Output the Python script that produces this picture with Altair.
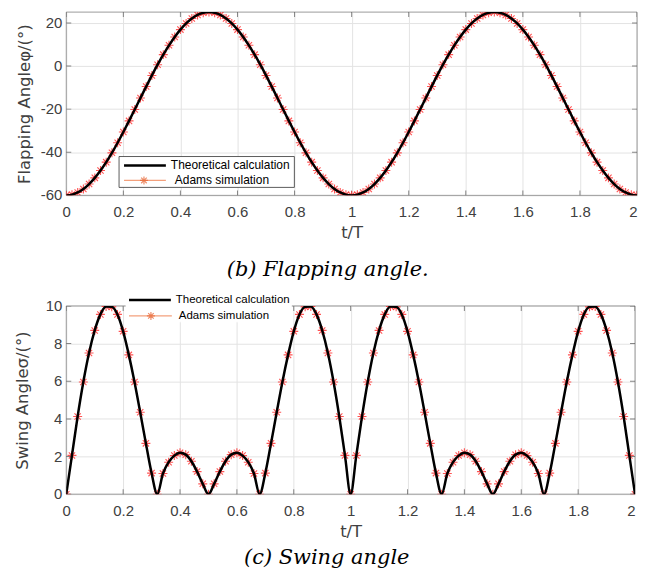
import altair as alt
import pandas as pd

# sample positions (t/T) of the simulation points
t_values = [round(0.02 * i, 2) for i in range(101)]

# flapping angle (deg)
flapping = [
    -60.0, -59.66, -58.66, -57.02, -54.74, -51.88, -48.48, -44.59, -40.27, -35.60,
    -30.63, -25.46, -20.17, -14.83, -9.54, -4.37, 0.60, 5.27, 9.59, 13.48,
    16.88, 19.74, 22.02, 23.66, 24.66, 25.00, 24.66, 23.66, 22.02, 19.74,
    16.88, 13.48, 9.59, 5.27, 0.60, -4.37, -9.54, -14.83, -20.17, -25.46,
    -30.63, -35.60, -40.27, -44.59, -48.48, -51.88, -54.74, -57.02, -58.66, -59.66,
    -60.0,
    -59.66, -58.66, -57.02, -54.74, -51.88, -48.48, -44.59, -40.27, -35.60,
    -30.63, -25.46, -20.17, -14.83, -9.54, -4.37, 0.60, 5.27, 9.59, 13.48,
    16.88, 19.74, 22.02, 23.66, 24.66, 25.00, 24.66, 23.66, 22.02, 19.74,
    16.88, 13.48, 9.59, 5.27, 0.60, -4.37, -9.54, -14.83, -20.17, -25.46,
    -30.63, -35.60, -40.27, -44.59, -48.48, -51.88, -54.74, -57.02, -58.66, -59.66,
    -60.0,
]

# swing angle (deg)
swing = [
    0.0, 2.06, 4.13, 5.96, 7.50, 8.70, 9.55, 9.97, 9.95, 9.55,
    8.65, 7.40, 5.96, 4.35, 2.70, 1.12, 0.0, 1.10, 1.70, 2.05,
    2.20, 2.10, 1.75, 1.20, 0.55, 0.0, 0.55, 1.20, 1.75, 2.10,
    2.20, 2.05, 1.70, 1.10, 0.0, 1.12, 2.70, 4.35, 5.96, 7.40,
    8.65, 9.55, 9.95, 9.97, 9.55, 8.70, 7.50, 5.96, 4.13, 2.06,
    0.0,
    2.06, 4.13, 5.96, 7.50, 8.70, 9.55, 9.97, 9.95, 9.55,
    8.65, 7.40, 5.96, 4.35, 2.70, 1.12, 0.0, 1.10, 1.70, 2.05,
    2.20, 2.10, 1.75, 1.20, 0.55, 0.0, 0.55, 1.20, 1.75, 2.10,
    2.20, 2.05, 1.70, 1.10, 0.0, 1.12, 2.70, 4.35, 5.96, 7.40,
    8.65, 9.55, 9.95, 9.97, 9.55, 8.70, 7.50, 5.96, 4.13, 2.06,
    0.0,
]

x_ticks = [0, 0.2, 0.4, 0.6, 0.8, 1, 1.2, 1.4, 1.6, 1.8, 2]
flap_ticks = [-60, -40, -20, 0, 20]
swing_ticks = [0, 2, 4, 6, 8, 10]

legend_labels = ["Theoretical calculation", "Adams simulation"]

ASTERISK = "M-1,0H1M0,-1V1M-0.7,-0.7L0.7,0.7M-0.7,0.7L0.7,-0.7"
AXIS_FONT = "Liberation Sans"
TITLE_FONT = "DejaVu Sans"
GRAY = "#404040"
FRAME = "#9a9a9a"

one = pd.DataFrame({"k": [0]})


def legend_layers(box, l1, l2, boxed, fs):
    x0, x1, y0, y1 = box
    layers = [
        alt.Chart(one).mark_rect(
            fill="white", stroke="#333333" if boxed else "white", strokeWidth=0.8
        ).encode(x=alt.value(x0), x2=alt.value(x1), y=alt.value(y0), y2=alt.value(y1))
    ]
    lx0, lx1, ly, tx = l1
    layers.append(
        alt.Chart(one).mark_rule(color="black", strokeWidth=2.5).encode(
            x=alt.value(lx0), x2=alt.value(lx1), y=alt.value(ly)
        )
    )
    layers.append(
        alt.Chart(one).mark_text(
            align="left", baseline="middle", font=AXIS_FONT, fontSize=fs, color="black"
        ).encode(x=alt.value(tx), y=alt.value(ly), text=alt.value(legend_labels[0]))
    )
    lx0, lx1, ly, tx, mx = l2
    layers.append(
        alt.Chart(one).mark_rule(color="#f3a07c", strokeWidth=1.2).encode(
            x=alt.value(lx0), x2=alt.value(lx1), y=alt.value(ly)
        )
    )
    layers.append(
        alt.Chart(one).mark_point(
            shape=ASTERISK, size=64, filled=False, color="#e8602c", strokeWidth=1.2
        ).encode(x=alt.value(mx), y=alt.value(ly))
    )
    layers.append(
        alt.Chart(one).mark_text(
            align="left", baseline="middle", font=AXIS_FONT, fontSize=fs, color="black"
        ).encode(x=alt.value(tx), y=alt.value(ly), text=alt.value(legend_labels[1]))
    )
    return layers


def panel(values, ydom, yticks, ytitle, width, height, extent, caption, cap_offset, legend):
    df = pd.DataFrame({"t": t_values, "v": values})
    xscale = alt.Scale(domain=[0, 2], nice=False, zero=False)
    yscale = alt.Scale(domain=ydom, nice=False, zero=False)
    xaxis = alt.Axis(
        values=x_ticks, title="t/T", labelExpr="'' + datum.value",
        labelPadding=9, titlePadding=5, labelOverlap=False,
        labelAlign={"condition": {"test": "datum.value == 2", "value": "right"},
                    "value": "center"},
    )
    yaxis = alt.Axis(
        values=yticks, title=ytitle, labels=False,
        titlePadding=4, minExtent=extent, maxExtent=extent,
    )

    def xc(field):
        return alt.X(field, type="quantitative", scale=xscale, axis=xaxis)

    def yc(field):
        return alt.Y(field, type="quantitative", scale=yscale, axis=yaxis)

    frame = alt.Chart(one).mark_rect(
        fillOpacity=0, stroke=FRAME, strokeWidth=1
    ).encode(x=alt.value(0), x2=alt.value("width"), y=alt.value(0), y2=alt.value("height"))

    xt = pd.DataFrame({"p": x_ticks})
    yt = pd.DataFrame({"p": yticks, "lab": [str(v) for v in yticks]})
    tick_style = dict(color="#555555", size=10, thickness=1, clip=True)
    tick_layers = [
        alt.Chart(xt).mark_tick(orient="vertical", **tick_style).encode(x=xc("p"), y=alt.value(0)),
        alt.Chart(xt).mark_tick(orient="vertical", **tick_style).encode(x=xc("p"), y=alt.value("height")),
        alt.Chart(yt).mark_tick(orient="horizontal", **tick_style).encode(y=yc("p"), x=alt.value(0)),
        alt.Chart(yt).mark_tick(orient="horizontal", **tick_style).encode(y=yc("p"), x=alt.value("width")),
    ]
    ylabels = alt.Chart(yt).mark_text(
        align="right", baseline="middle", font=AXIS_FONT, fontSize=15, color=GRAY
    ).encode(y=yc("p"), x=alt.value(-4), text="lab:N")

    pts = alt.Chart(df).mark_point(
        shape=ASTERISK, size=81, filled=False, color="#ff2a2a", strokeWidth=1.1,
        opacity=0.8, clip=True,
    ).encode(x=xc("t"), y=yc("v"))
    line = alt.Chart(df).mark_line(
        color="black", strokeWidth=2.5, interpolate="monotone", clip=True
    ).encode(x=xc("t"), y=yc("v"))
    return alt.layer(frame, *tick_layers, ylabels, pts, line, *legend).properties(
        width=width,
        height=height,
        title=alt.TitleParams(
            caption, orient="bottom", anchor="middle", dx=-24, offset=cap_offset,
            font="DejaVu Serif", fontStyle="italic", fontSize=21,
            fontWeight="normal", color="black",
        ),
    )


top = panel(
    flapping, [-60, 25], flap_ticks, "Flapping Angle\u03c6/(\u00b0)", 573, 184, 30,
    "(b) Flapping angle.", 18,
    legend_layers((53, 229, 145, 176), (58, 100, 154, 105), (58, 100, 169, 109, 78), True, 12),
)
bottom = panel(
    swing, [0, 10], swing_ticks, "Swing Angle\u03c3/(\u00b0)", 571, 189, 32,
    "(c) Swing angle", 8,
    legend_layers((60, 226, -12, 16), (63, 105, -6, 110), (63, 106, 10, 113, 85), False, 11.5),
)

chart = (
    alt.vconcat(top, bottom, spacing=13)
    .properties(padding={"left": 6.5, "top": 2, "right": 0, "bottom": 0})
    .configure_view(strokeOpacity=0)
    .configure_axis(
        grid=True, gridColor="#e3e3e3", gridWidth=1, domain=False, ticks=False,
        labelFont=AXIS_FONT, labelFontSize=15, labelColor=GRAY,
        titleFont=TITLE_FONT, titleFontSize=16.5, titleFontWeight="normal", titleColor=GRAY,
    )
)

chart.save("out.html", embed_options={"renderer": "svg", "actions": False})
